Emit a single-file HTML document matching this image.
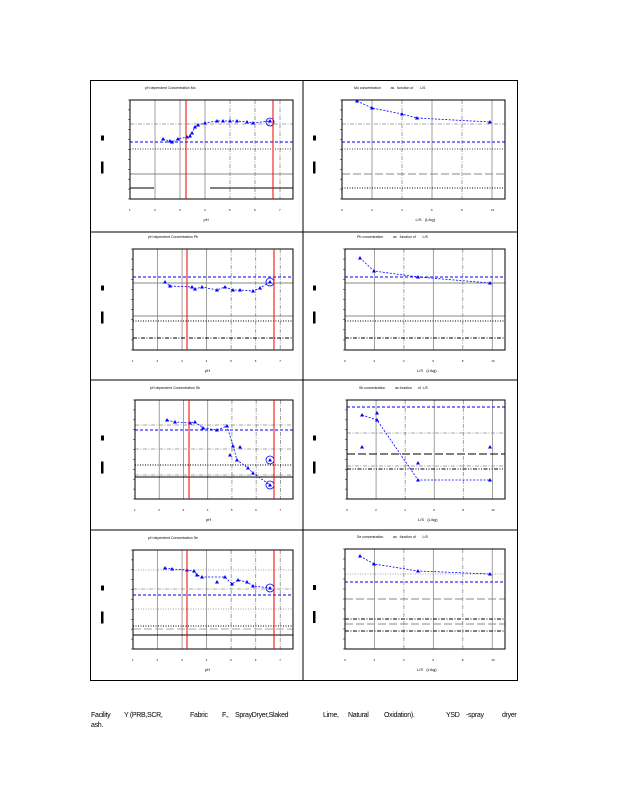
<!DOCTYPE html>
<html><head><meta charset="utf-8"><style>
body{margin:0;background:#fff;width:618px;height:800px;overflow:hidden;font-family:"Liberation Sans",sans-serif}
svg{position:absolute;left:0;top:0}
.c{position:absolute;font-size:7px;line-height:8px;color:#000;white-space:nowrap;letter-spacing:-0.3px}
</style></head><body>
<svg id="s" width="618" height="800" xmlns="http://www.w3.org/2000/svg"></svg>
<span class="c" style="left:91px;top:712px">Facility</span>
<span class="c" style="left:124px;top:712px">Y (PRB,SCR,</span>
<span class="c" style="left:190px;top:712px">Fabric</span>
<span class="c" style="left:222px;top:712px">F.,</span>
<span class="c" style="left:235px;top:712px">SprayDryer,Slaked</span>
<span class="c" style="left:323px;top:712px">Lime,</span>
<span class="c" style="left:348px;top:712px">Natural</span>
<span class="c" style="left:384px;top:712px">Oxidation).</span>
<span class="c" style="left:446px;top:712px">YSD</span>
<span class="c" style="left:466px;top:712px">-spray</span>
<span class="c" style="left:502px;top:712px">dryer</span>
<span class="c" style="left:91px;top:722px">ash.</span>
<script>
var S='';
function L(x1,y1,x2,y2,c,w,d){S+='<line x1="'+x1+'" y1="'+y1+'" x2="'+x2+'" y2="'+y2+'" stroke="'+c+'" stroke-width="'+(w||0.8)+'"'+(d?' stroke-dasharray="'+d+'"':'')+'/>';}
function T(x,y,t,sz){S+='<text x="'+x+'" y="'+y+'" font-size="'+(sz||4)+'" font-family="Liberation Sans">'+t+'</text>';}
var DD={dot:'1,1.5',dd:'4,1.5,1,1.5',ld:'8,3',dash:'3,2',ddd:'4,1.5,1,1.5,1,1.5'};
S+='<rect x="90.5" y="80.5" width="427" height="600" fill="none" stroke="#000" stroke-width="1"/>';
L(303,80,303,680,'#000',1);L(90,232,517,232,'#000',1);L(90,380,517,380,'#000',1);L(90,530,517,530,'#000',1);
function panel(x0,y0,x1,y1,left,hl,pts,extra,circ,title,xlab){
  if(left){var xs=[];for(var i=1;i<7;i++)xs.push(x0+i*25*(x1-x0)/163);
    xs.forEach(function(x,i){L(x,y0,x,y1,'#888',0.8,i<3?null:DD.dd);});
    for(i=0;i<7;i++)T(x0+i*25*(x1-x0)/163-1,y1+12,i+1,3);
  } else {var st=(x1-x0)*30/163;for(var i=1;i<6;i++)L(x0+i*st,y0,x0+i*st,y1,'#888',0.8,i%2?null:DD.dd);
    for(i=0;i<6;i++)T(x0+i*st-1,y1+12,i*2,3);}
  hl.forEach(function(h){L(x0,h[0],x1,h[0],h[1],h[2]||0.8,h[3]?DD[h[3]]:null);});
  S+='<rect x="'+x0+'" y="'+y0+'" width="'+(x1-x0)+'" height="'+(y1-y0)+'" fill="none" stroke="#000" stroke-width="1"/>';
  for(var k=0;k<=10;k++)L(x0-2,y0+k*(y1-y0)/10,x0,y0+k*(y1-y0)/10,'#000',0.5);
  var d='';pts.forEach(function(p,i){d+=(i?'L':'M')+p[0]+' '+p[1];});
  S+='<path d="'+d+'" fill="none" stroke="#00f" stroke-width="0.8" stroke-dasharray="2,1.5"/>';
  pts.concat(extra).forEach(function(p){S+='<path d="M'+(p[0]-2)+' '+(p[1]+1.5)+'L'+p[0]+' '+(p[1]-2)+'L'+(p[0]+2)+' '+(p[1]+1.5)+'Z" fill="#00f"/>';});
  circ.forEach(function(c){S+='<circle cx="'+c[0]+'" cy="'+c[1]+'" r="4" fill="none" stroke="#00f" stroke-width="0.8"/>';});
  T(left?x0+15:x0+12,y0-11,title,3.5);
  T((x0+x1)/2-8,y1+22,xlab,4);
  var lx=left?101:313;
  S+='<rect x="'+lx+'" y="'+((y0+y1)/2-14)+'" width="3" height="5" fill="#000"/>';
  S+='<rect x="'+lx+'" y="'+((y0+y1)/2+12)+'" width="2.5" height="12" fill="#000"/>';
}
var B='#0000ff',G='#888',K='#000';
panel(130,100,293,199,1,[[142,B,1,'dash'],[124,G,0.8,'dd'],[149,K,0.8,'dot'],[174,G,1]],
 [[163,139],[170,141],[172,142],[178,139],[187,137],[190,136],[192,133],[195,127],[198,125],[205,123],[217,121],[223,121],[230,121],[237,121],[247,122],[253,123],[270,121]],[],[[270,122]],'pH dependent Concentration Mo','pH');
L(130,188,154,188,K,1);L(210,188,293,188,K,1);
panel(342,100,505,199,0,[[142,B,1,'dash'],[124,G,0.8,'dd'],[149,K,0.8,'dot'],[174,G,1,'ld'],[188,K,1,'dot'],[199,K,1,'dd']],
 [[357,101],[372,108],[402,114],[417,118],[490,122]],[],[],'Mo concentration &#160;&#160;&#160;&#160;&#160;&#160;&#160;&#160; as &#160;&#160;function of &#160;&#160;&#160;&#160;&#160; L/S','L/S &#160;&#160;(L/kg)');
panel(133,249,293,350,1,[[277,B,1,'dash'],[283,G,1],[316,G,1],[321,K,1,'dot'],[338,K,1,'dd']],
 [[165,282],[170,286],[192,287],[195,289],[202,287],[217,290],[225,287],[233,290],[240,290],[253,291],[260,288],[270,282]],[],[[270,282]],'pH dependent Concentration Pb','pH');
panel(345,249,505,350,0,[[277,B,1,'dash'],[283,G,1],[316,G,1],[321,K,1,'dot'],[338,K,1,'dd']],
 [[360,258],[374,271],[418,277],[490,283]],[],[],'Pb concentration &#160;&#160;&#160;&#160;&#160;&#160;&#160;&#160; as &#160;&#160;function of &#160;&#160;&#160;&#160;&#160; L/S','L/S &#160;&#160;(L/kg)');
panel(135,400,293,499,1,[[430,B,1,'dash'],[425,G,0.8,'dd'],[449,G,0.8,'dd'],[465,K,1,'dot'],[475,G,0.8,'dd'],[477,K,1]],
 [[167,420],[175,422],[190,423],[195,422],[203,428],[217,430],[227,426],[233,446],[237,460],[248,468],[253,473],[270,485]],[[230,455],[240,447],[270,460]],[[270,460],[270,485]],'pH dependent Concentration Sb','pH');
panel(347,400,505,499,0,[[407,B,1,'dash'],[433,G,0.8,'dd'],[454,K,1,'ld'],[466,G,0.8,'dd'],[469,K,1,'ddd']],
 [[362,415],[377,420],[418,480],[490,480]],[[362,447],[377,413],[418,463],[490,447]],[],'Sb concentration &#160;&#160;&#160;&#160;&#160;&#160;&#160;&#160; as function &#160;&#160;&#160;&#160; of &#160;L/S','L/S &#160;&#160;(L/kg)');
panel(133,550,293,649,1,[[570,G,0.8,'dot'],[589,G,0.8,'dd'],[595,B,1,'dash'],[609,G,0.8,'dot'],[626,K,1,'dot'],[629,G,0.8,'ld'],[635,K,1]],
 [[165,568],[172,569],[187,570],[194,571],[197,575],[202,577],[225,577],[232,584],[238,580],[247,582],[253,586],[270,588]],[[217,582]],[[270,588]],'pH dependent Concentration Se','pH');
panel(345,549,505,649,0,[[574,G,0.8,'dot'],[582,B,1,'dash'],[599,G,1,'ld'],[619,K,1,'dd'],[624,G,1,'ld'],[631,K,1,'dd']],
 [[360,556],[374,564],[418,571],[490,574]],[],[],'Se concentration &#160;&#160;&#160;&#160;&#160;&#160;&#160;&#160; as &#160;&#160;function of &#160;&#160;&#160;&#160;&#160; L/S','L/S &#160;&#160;(L/kg)');
[[186,100,199],[273,100,199],[187,249,350],[274,249,350],[189,400,499],[274,400,499],[187,550,649],[274,550,649]].forEach(function(r){L(r[0],r[1],r[0],r[2],'#e00',1);});
document.getElementById('s').innerHTML=S;
</script>
</body></html>
